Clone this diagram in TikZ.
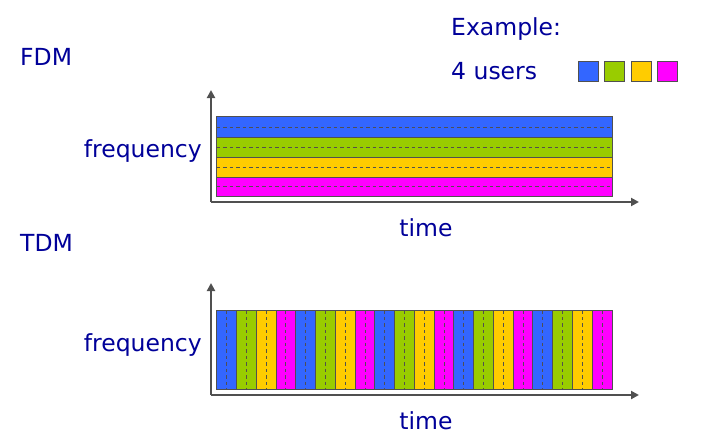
\documentclass[tikz,border=0pt]{standalone}
\usepackage{fontspec}
\setmainfont{DejaVu Sans}
\usetikzlibrary{arrows.meta}
\definecolor{ublue}{HTML}{3366FF}
\definecolor{ugreen}{HTML}{99CC00}
\definecolor{uyellow}{HTML}{FFCC00}
\definecolor{umag}{HTML}{FF00FF}
\definecolor{txt}{HTML}{000099}
\definecolor{axgray}{HTML}{505050}
\tikzset{
  lbl/.style={text=txt, font=\fontsize{23.5}{26}\selectfont, inner sep=0pt},
  band/.style={draw=axgray, line width=0.9pt},
  dashline/.style={draw=axgray, line width=0.8pt, dash pattern=on 3.5pt off 3pt},
  axisline/.style={draw=axgray, line width=2.5pt, -{Triangle[length=8pt,width=8pt]}},
}
\begin{document}
\begin{tikzpicture}[x=1pt,y=-1pt]
\useasboundingbox (0,0) rectangle (719,447);
% labels
\node[lbl, anchor=west] (fdm) at (20,57) {FDM};
\node[lbl, anchor=west] (tdm) at (20,243) {TDM};
\node[lbl, anchor=west] (ex) at (451,29) {Example:};
\node[lbl, anchor=west] (users) at (451,71) {4 users};
\node[lbl, anchor=east] (f1) at (202,151) {frequency};
\node[lbl, anchor=east] (f2) at (202,345) {frequency};
\node[lbl] (t1) at (426,228) {time};
\node[lbl] (t2) at (426,421) {time};
% legend squares
\foreach \c/\x in {ublue/578, ugreen/604.5, uyellow/631, umag/657.5}
  \draw[band, fill=\c] (\x,61) rectangle ++(20,20);
% FDM bands
\foreach \c/\a/\b in {ublue/116.7/137.3, ugreen/137.3/157.3, uyellow/157.3/177.3, umag/177.3/196}
  \draw[band, fill=\c] (216.7,\a) rectangle (612,\b);
\foreach \y in {127.3,147.3,167.3,186.5}
  \draw[dashline] (216.7,\y) -- (612,\y);
% FDM axes
\coordinate (o1) at (211,202);
\coordinate (y1) at (211,90);
\coordinate (x1) at (639,202);
\draw[axisline] (o1) -- (y1);
\draw[axisline] (o1) -- (x1);
% TDM slots
\foreach \i in {0,...,19}{
  \pgfmathtruncatemacro{\k}{mod(\i,4)}
  \ifcase\k \def\cc{ublue}\or \def\cc{ugreen}\or \def\cc{uyellow}\or \def\cc{umag}\fi
  \pgfmathsetmacro{\xa}{216.7+\i*19.765}
  \draw[band, fill=\cc] (\xa,310.3) rectangle ++(19.765,78.7);
  \draw[dashline] (\xa+9.88,310.3) -- ++(0,78.7);
}
% TDM axes
\coordinate (o2) at (211,395);
\coordinate (y2) at (211,283);
\coordinate (x2) at (639,395);
\draw[axisline] (o2) -- (y2);
\draw[axisline] (o2) -- (x2);
\end{tikzpicture}
\end{document}
